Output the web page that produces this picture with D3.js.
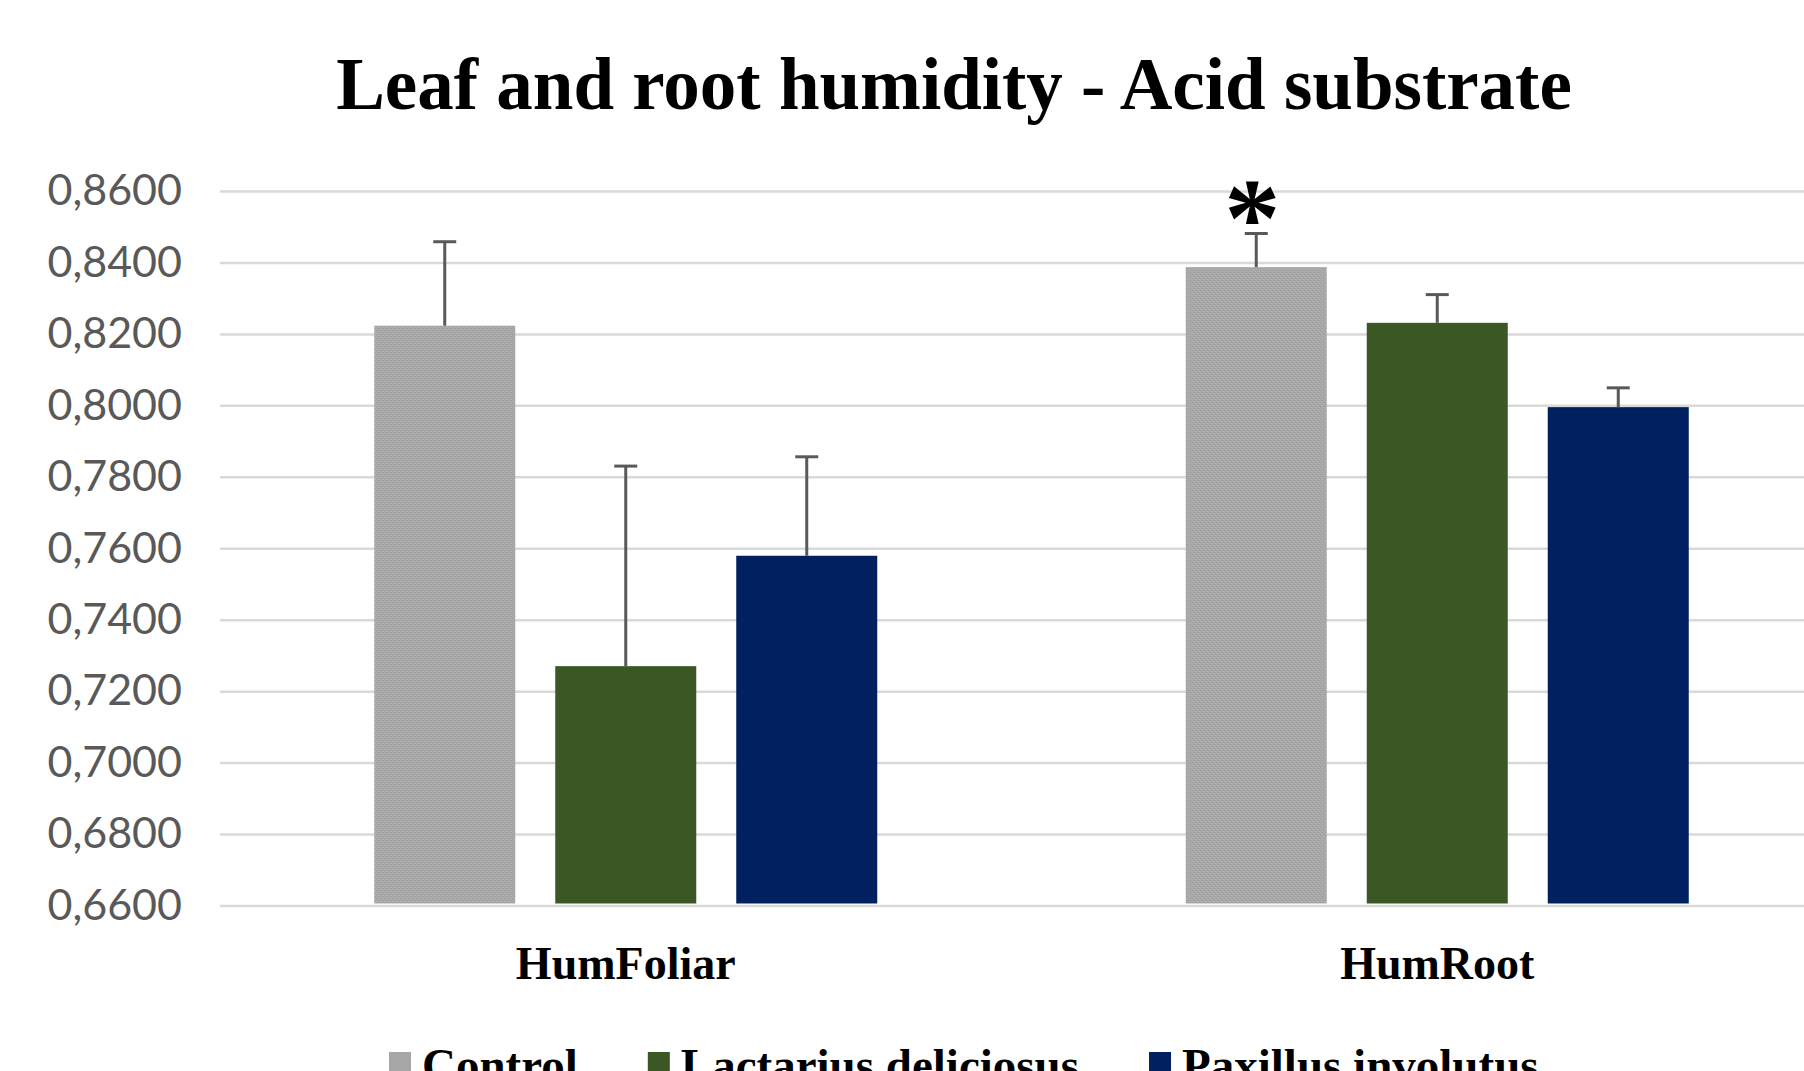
<!DOCTYPE html>
<html>
<head>
<meta charset="utf-8">
<script src="https://cdn.jsdelivr.net/npm/d3@7"></script>
<style>
  body { margin: 0; background: #fff; overflow: hidden; }
</style>
</head>
<body>
<script>
// chart values
var categories = ["HumFoliar", "HumRoot"];
var series = ["Control", "Lactarius deliciosus", "Paxillus involutus"];
var means = [
  [0.8223, 0.7270, 0.7579],
  [0.8387, 0.8231, 0.7995]
];
var errors = [
  [0.0235, 0.0560, 0.0277],
  [0.0094, 0.0079, 0.0054]
];
var tickValues = [0.66, 0.68, 0.70, 0.72, 0.74, 0.76, 0.78, 0.80, 0.82, 0.84, 0.86];
var colors = ["url(#greyDots)", "#3b5724", "#002060"];
var legendColors = ["#a6a6a6", "#3b5724", "#002060"];

var WIDTH = 1804;
var HEIGHT = 1071;

var svg = d3.select("body")
  .append("svg")
  .attr("width", WIDTH)
  .attr("height", HEIGHT);

// dotted grey texture like the excel pattern fill
var pat = svg.append("defs").append("pattern")
  .attr("id", "greyDots")
  .attr("width", 4).attr("height", 4)
  .attr("patternUnits", "userSpaceOnUse");
pat.append("rect").attr("width", 4).attr("height", 4).attr("fill", "#a9a9a9");
pat.append("rect").attr("x", 0).attr("y", 0).attr("width", 1).attr("height", 1).attr("fill", "#969696");
pat.append("rect").attr("x", 2).attr("y", 2).attr("width", 1).attr("height", 1).attr("fill", "#969696");
pat.append("rect").attr("x", 1).attr("y", 3).attr("width", 1).attr("height", 1).attr("fill", "#b4b4b4");
pat.append("rect").attr("x", 3).attr("y", 1).attr("width", 1).attr("height", 1).attr("fill", "#b4b4b4");

var x0 = d3.scaleBand()
  .domain(categories)
  .range([220, 1843]);

var groupWidth = 503;
var x1 = d3.scaleBand()
  .domain(series)
  .range([0, groupWidth])
  .paddingInner(40 / 181);

var y = d3.scaleLinear()
  .domain([0.66, 0.86])
  .range([905.5, 191]);

var fmt = d3.formatLocale({ decimal: ",", thousands: ".", grouping: [3], currency: ["", ""] }).format(".4f");

// title
svg.append("text")
  .attr("x", 954)
  .attr("y", 109)
  .attr("text-anchor", "middle")
  .style("font-family", "'Liberation Serif', 'Times New Roman', serif")
  .style("font-weight", "bold")
  .style("font-size", "73px")
  .attr("fill", "#000")
  .text("Leaf and root humidity - Acid substrate");

// y axis: grid lines + labels
var yAxis = d3.axisLeft(y)
  .tickValues(tickValues)
  .tickSize(-(WIDTH - 220))
  .tickPadding(38)
  .tickFormat(fmt);

var gy = svg.append("g")
  .attr("transform", "translate(220,0)")
  .call(yAxis);
gy.select(".domain").remove();
gy.selectAll(".tick line")
  .attr("stroke", "#d9d9d9")
  .attr("stroke-width", 2.5);
gy.selectAll(".tick text")
  .attr("fill", "#595959")
  .style("font-family", "Lato, 'Open Sans', sans-serif")
  .style("font-size", "43px");

// bars
var groups = svg.selectAll(".group")
  .data(categories)
  .enter()
  .append("g")
  .attr("class", "group")
  .attr("transform", function(d) {
    return "translate(" + (x0(d) + (x0.bandwidth() - groupWidth) / 2) + ",0)";
  });

groups.selectAll("rect")
  .data(function(d, i) {
    return series.map(function(s, j) {
      return { s: s, j: j, v: means[i][j], e: errors[i][j] };
    });
  })
  .enter()
  .append("rect")
  .attr("x", function(d) { return x1(d.s); })
  .attr("y", function(d) { return y(d.v); })
  .attr("width", x1.bandwidth())
  .attr("height", function(d) { return y(0.66) - y(d.v) - 2; })
  .attr("fill", function(d) { return colors[d.j]; });

// error bars (plus direction only)
var capW = 23;
var eb = groups.selectAll(".err")
  .data(function(d, i) {
    return series.map(function(s, j) {
      return { s: s, v: means[i][j], e: errors[i][j] };
    });
  })
  .enter()
  .append("g")
  .attr("class", "err")
  .attr("stroke", "#595959")
  .attr("stroke-width", 3);
eb.append("line")
  .attr("x1", function(d) { return x1(d.s) + x1.bandwidth() / 2; })
  .attr("x2", function(d) { return x1(d.s) + x1.bandwidth() / 2; })
  .attr("y1", function(d) { return y(d.v); })
  .attr("y2", function(d) { return y(d.v + d.e); });
eb.append("line")
  .attr("x1", function(d) { return x1(d.s) + x1.bandwidth() / 2 - capW / 2; })
  .attr("x2", function(d) { return x1(d.s) + x1.bandwidth() / 2 + capW / 2; })
  .attr("y1", function(d) { return y(d.v + d.e); })
  .attr("y2", function(d) { return y(d.v + d.e); });

// significance star over HumRoot control
svg.append("text")
  .attr("x", x0("HumRoot") + (x0.bandwidth() - groupWidth) / 2 + x1("Control") + x1.bandwidth() / 2 - 4)
  .attr("y", y(means[1][0] + errors[1][0]) + 22)
  .attr("text-anchor", "middle")
  .style("font-family", "'Liberation Serif', serif")
  .style("font-weight", "bold")
  .style("font-size", "112px")
  .attr("fill", "#000")
  .text("*");

// category labels
svg.selectAll(".cat")
  .data(categories)
  .enter()
  .append("text")
  .attr("class", "cat")
  .attr("x", function(d) { return x0(d) + x0.bandwidth() / 2; })
  .attr("y", 979)
  .attr("text-anchor", "middle")
  .style("font-family", "'Liberation Serif', 'Times New Roman', serif")
  .style("font-weight", "bold")
  .style("font-size", "46px")
  .attr("fill", "#000")
  .text(function(d) { return d; });

// legend
var lx = 389;
series.forEach(function(s, j) {
  svg.append("rect")
    .attr("x", lx)
    .attr("y", 1052)
    .attr("width", 22)
    .attr("height", 22)
    .attr("fill", legendColors[j]);
  var t = svg.append("text")
    .attr("x", lx + 33)
    .attr("y", 1081)
    .style("font-family", "'Liberation Serif', 'Times New Roman', serif")
    .style("font-weight", "bold")
    .style("font-size", "47px")
    .attr("fill", "#000")
    .text(s);
  lx += 33 + t.node().getComputedTextLength() + 70;
});
</script>
</body>
</html>
